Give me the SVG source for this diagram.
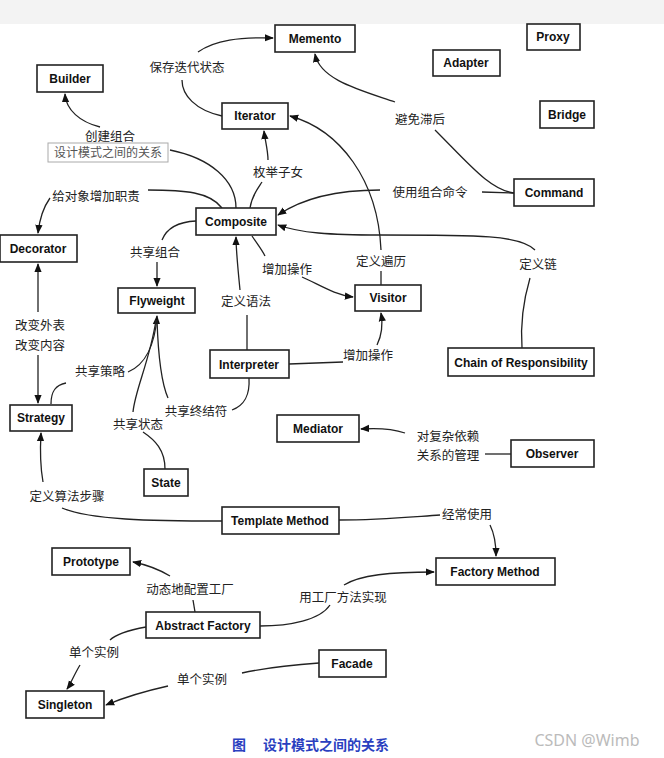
<svg xmlns="http://www.w3.org/2000/svg" width="664" height="758" viewBox="0 0 664 758">
<style>
.n rect{fill:#fff;stroke:#222;stroke-width:1.6}
.n text{font-family:"Liberation Sans",Arial,sans-serif;font-weight:bold;font-size:12px;fill:#111;text-anchor:middle}
.e path{fill:none;stroke:#222;stroke-width:1.3}
.l{font-family:"Noto Sans CJK SC",sans-serif;font-size:12.5px;fill:#222;text-anchor:middle}
</style>
<defs><marker id="a" viewBox="0 0 10 10" refX="9" refY="5" markerWidth="7" markerHeight="7" orient="auto"><path d="M0,1 L10,5 L0,9 z" fill="#111"/></marker></defs>
<rect width="664" height="758" fill="#fff"/>
<rect width="664" height="24" fill="#f3f3f3"/>
<g class="e">
<path d="M222,116 C195,110 182,95 182,80"/><path d="M198,52 C215,40 240,37 273,38" marker-end="url(#a)"/>
<path d="M514,193 C490,190 470,165 435,130"/><path d="M395,102 C360,90 320,80 315,54" marker-end="url(#a)"/>
<path d="M236,208 C236,180 210,158 170,150"/><path d="M100,127 C80,122 66,110 65,94" marker-end="url(#a)"/>
<path d="M250,208 C252,195 258,188 262,182"/><path d="M268,160 C268,150 265,140 264,131" marker-end="url(#a)"/>
<path d="M222,208 C210,192 185,190 148,190"/><path d="M50,198 C45,205 40,215 38,233" marker-end="url(#a)"/>
<path d="M514,193 L482,192"/><path d="M380,190 C330,190 300,200 278,215" marker-end="url(#a)"/>
<path d="M381,250 C378,180 340,130 290,116" marker-end="url(#a)"/><path d="M381,271 L381,285"/>
<path d="M522,348 C520,320 525,295 530,278"/><path d="M535,250 C520,235 480,235 380,235 C330,235 300,233 278,225" marker-end="url(#a)"/>
<path d="M252,236 C258,245 262,250 265,256"/><path d="M302,277 C320,285 335,295 353,297" marker-end="url(#a)"/>
<path d="M196,221 C175,222 166,230 162,240"/><path d="M157,262 L157,286" marker-end="url(#a)"/>
<path d="M247,350 L247,315"/><path d="M240,290 C238,270 236,250 236,237" marker-end="url(#a)"/>
<path d="M289,364 L343,362"/><path d="M377,345 C382,335 383,325 381,313" marker-end="url(#a)"/>
<path d="M38,312 L38,264" marker-end="url(#a)"/><path d="M38,355 L38,403" marker-end="url(#a)"/>
<path d="M51,404 C51,392 55,385 66,383"/><path d="M128,372 C145,365 155,345 157,316" marker-end="url(#a)"/>
<path d="M133,412 C135,390 150,360 156,320"/><path d="M168,398 C160,380 158,350 157,320"/>
<path d="M165,469 C165,450 155,440 143,432"/><path d="M249,378 C250,395 245,405 232,410"/>
<path d="M222,521 C150,521 90,520 62,508"/><path d="M43,482 C40,465 40,450 41,433" marker-end="url(#a)"/>
<path d="M511,454 L485,454"/><path d="M405,433 C390,428 375,428 361,429" marker-end="url(#a)"/>
<path d="M339,520 C380,520 410,517 440,515"/><path d="M490,525 C495,535 496,545 496,556" marker-end="url(#a)"/>
<path d="M195,612 L193,600"/><path d="M170,576 C160,570 148,565 133,562" marker-end="url(#a)"/>
<path d="M260,626 C290,626 320,620 330,605"/><path d="M344,585 C360,575 390,572 434,572" marker-end="url(#a)"/>
<path d="M146,627 C130,630 115,635 110,640"/><path d="M80,665 C74,675 70,685 67,689" marker-end="url(#a)"/>
<path d="M319,663 C290,665 265,668 242,673"/><path d="M168,686 C150,690 125,697 106,705" marker-end="url(#a)"/>
</g>
<g id="memento" class="n"><rect x="275" y="25" width="80" height="27"/><text x="315" y="43">Memento</text></g>
<g id="proxy" class="n"><rect x="527" y="24" width="53" height="26"/><text x="553" y="41">Proxy</text></g>
<g id="adapter" class="n"><rect x="433" y="50" width="67" height="26"/><text x="466" y="67">Adapter</text></g>
<g id="bridge" class="n"><rect x="540" y="101" width="54" height="27"/><text x="567" y="119">Bridge</text></g>
<g id="builder" class="n"><rect x="37" y="65" width="66" height="27"/><text x="70" y="83">Builder</text></g>
<g id="iterator" class="n"><rect x="222" y="103" width="66" height="26"/><text x="255" y="120">Iterator</text></g>
<g id="composite" class="n"><rect x="196" y="208" width="80" height="27"/><text x="236" y="226">Composite</text></g>
<g id="command" class="n"><rect x="514" y="179" width="80" height="27"/><text x="554" y="197">Command</text></g>
<g id="decorator" class="n"><rect x="0" y="235" width="77" height="27"/><text x="38" y="253">Decorator</text></g>
<g id="flyweight" class="n"><rect x="118" y="288" width="77" height="25"/><text x="157" y="305">Flyweight</text></g>
<g id="visitor" class="n"><rect x="355" y="285" width="66" height="26"/><text x="388" y="302">Visitor</text></g>
<g id="interpreter" class="n"><rect x="210" y="350" width="79" height="28"/><text x="249" y="369">Interpreter</text></g>
<g id="chain" class="n"><rect x="448" y="348" width="146" height="28"/><text x="521" y="367">Chain of Responsibility</text></g>
<g id="strategy" class="n"><rect x="10" y="405" width="62" height="26"/><text x="41" y="422">Strategy</text></g>
<g id="mediator" class="n"><rect x="277" y="415" width="82" height="27"/><text x="318" y="433">Mediator</text></g>
<g id="observer" class="n"><rect x="511" y="440" width="83" height="27"/><text x="552" y="458">Observer</text></g>
<g id="state" class="n"><rect x="144" y="469" width="44" height="27"/><text x="166" y="487">State</text></g>
<g id="template" class="n"><rect x="222" y="507" width="117" height="27"/><text x="280" y="525">Template Method</text></g>
<g id="prototype" class="n"><rect x="52" y="548" width="78" height="27"/><text x="91" y="566">Prototype</text></g>
<g id="factory" class="n"><rect x="436" y="558" width="119" height="27"/><text x="495" y="576">Factory Method</text></g>
<g id="abstract" class="n"><rect x="146" y="612" width="114" height="26"/><text x="203" y="630">Abstract Factory</text></g>
<g id="facade" class="n"><rect x="319" y="650" width="67" height="27"/><text x="352" y="668">Facade</text></g>
<g id="singleton" class="n"><rect x="26" y="691" width="78" height="27"/><text x="65" y="709">Singleton</text></g>
<g id="labels">
<text class="l" x="187" y="72">保存迭代状态</text>
<text class="l" x="110" y="141">创建组合</text>
<text class="l" x="278" y="177">枚举子女</text>
<text class="l" x="96" y="201">给对象增加职责</text>
<text class="l" x="420" y="124">避免滞后</text>
<text class="l" x="430" y="197">使用组合命令</text>
<text class="l" x="155" y="257">共享组合</text>
<text class="l" x="287" y="274">增加操作</text>
<text class="l" x="381" y="266">定义遍历</text>
<text class="l" x="538" y="269">定义链</text>
<text class="l" x="246" y="306">定义语法</text>
<text class="l" x="40" y="330">改变外表</text>
<text class="l" x="40" y="350">改变内容</text>
<text class="l" x="100" y="376">共享策略</text>
<text class="l" x="368" y="360">增加操作</text>
<text class="l" x="196" y="416">共享终结符</text>
<text class="l" x="138" y="429">共享状态</text>
<text class="l" x="448" y="441">对复杂依赖</text>
<text class="l" x="448" y="460">关系的管理</text>
<text class="l" x="67" y="501">定义算法步骤</text>
<text class="l" x="467" y="519">经常使用</text>
<text class="l" x="190" y="594">动态地配置工厂</text>
<text class="l" x="343" y="602">用工厂方法实现</text>
<text class="l" x="94" y="657">单个实例</text>
<text class="l" x="202" y="684">单个实例</text>
</g>
<g id="tooltip"><rect x="48" y="143" width="120" height="19" fill="#fff" stroke="#aaa"/><text x="108" y="157" style="font-family:'Noto Sans CJK SC',sans-serif;font-size:12px;fill:#555;text-anchor:middle">设计模式之间的关系</text></g>
<g style="font-family:'Noto Sans CJK SC',sans-serif;font-size:14px;font-weight:bold;fill:#2a3fbf">
<text x="232" y="750">图</text><text x="263" y="750">设计模式之间的关系</text></g>
<text x="587" y="746" style="font-family:'Noto Sans',sans-serif;font-size:16px;fill:#bbb;text-anchor:middle">CSDN @Wimb</text>
</svg>
